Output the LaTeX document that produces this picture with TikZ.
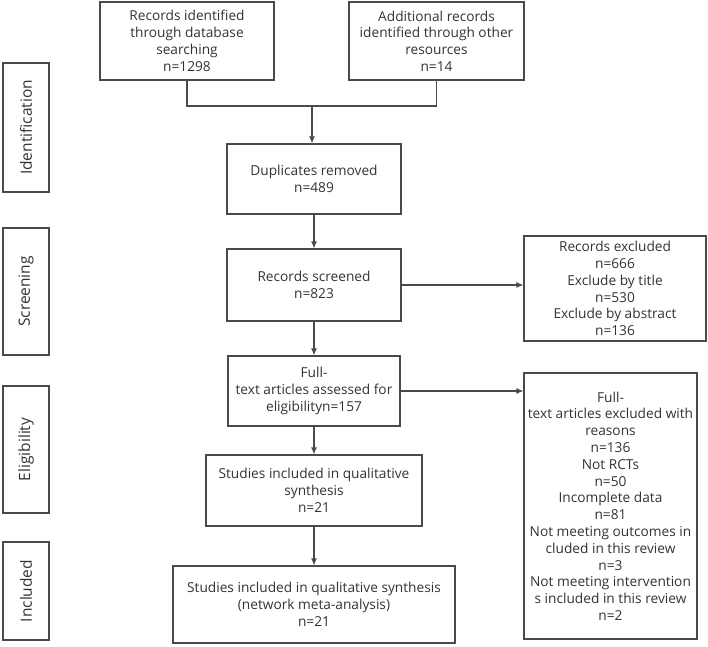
\documentclass[tikz,border=0pt]{standalone}
\usepackage{fontspec}
\setmainfont{Open Sans}
\usetikzlibrary{arrows.meta}
\definecolor{ln}{HTML}{4A4A4A}
\definecolor{tx}{HTML}{333333}
\tikzset{
  box/.style={draw=ln, line width=1.1pt, align=center, inner sep=2pt,
    text=tx, font=\fontsize{13.7}{16.8}\selectfont},
  side/.style={draw=ln, line width=1.1pt, text=tx, rotate=90,
    font=\fontsize{15.5}{18}\selectfont, inner sep=0pt},
  arr/.style={draw=ln, line width=1.1pt, -{Latex[length=7pt,width=6pt]}},
  ln/.style={draw=ln, line width=1.1pt}
}
\begin{document}
\begin{tikzpicture}[x=1pt,y=-1pt]
\useasboundingbox (0,0) rectangle (708,646);
% side labels (rotated: min width = vertical extent)
\node[side, minimum width=129pt, minimum height=46pt] (lid) at (26,127.5) {Identification};
\node[side, minimum width=127pt, minimum height=46pt] (lsc) at (26,291.5) {Screening};
\node[side, minimum width=127pt, minimum height=46pt] (lel) at (26,449.5) {Eligibility};
\node[side, minimum width=98pt, minimum height=46pt] (lin) at (26,591) {Included};
% main boxes
\node[box, minimum width=174pt, minimum height=78pt] (b1) at (187,41)
  {Records identified\\through database\\searching\\n=1298};
\node[box, minimum width=175pt, minimum height=78pt] (b2) at (436.5,41)
  {Additional records\\identified through other\\resources\\n=14};
\node[box, minimum width=174pt, minimum height=70pt] (dup) at (314,179)
  {Duplicates removed\\n=489};
\node[box, minimum width=174pt, minimum height=72pt] (scr) at (314,285)
  {Records screened\\n=823};
\node[box, minimum width=182pt, minimum height=105pt] (ex1) at (615,288.5)
  {Records excluded\\n=666\\Exclude by title\\n=530\\Exclude by abstract\\n=136};
\node[box, minimum width=172pt, minimum height=70pt] (fta) at (314,391)
  {Full-\\text articles assessed for\\eligibilityn=157};
\node[box, minimum width=173pt, minimum height=266pt] (ex2) at (610.5,506)
  {Full-\\text articles excluded with\\reasons\\n=136\\Not RCTs\\n=50\\Incomplete data\\n=81\\Not meeting outcomes in\\cluded in this review\\n=3\\Not meeting intervention\\s included in this review\\n=2};
\node[box, minimum width=216pt, minimum height=71pt] (sq) at (314,490.5)
  {Studies included in qualitative\\synthesis\\n=21};
\node[box, minimum width=282pt, minimum height=77pt] (sf) at (314,604.5)
  {Studies included in qualitative synthesis\\(network meta-analysis)\\n=21};
% connectors
\coordinate (j) at (312,106);
\draw[ln] (b1.south) |- (j) -| (b2.south);
\draw[arr] (j) -- (j |- dup.north);
\draw[arr] (dup) -- (scr);
\draw[arr] (scr.east) -- (scr.east -| ex1.west);
\draw[arr] (scr) -- (fta);
\draw[arr] (fta.east) -- (fta.east -| ex2.west);
\draw[arr] (fta) -- (sq);
\draw[arr] (sq) -- (sf);
\end{tikzpicture}
\end{document}
